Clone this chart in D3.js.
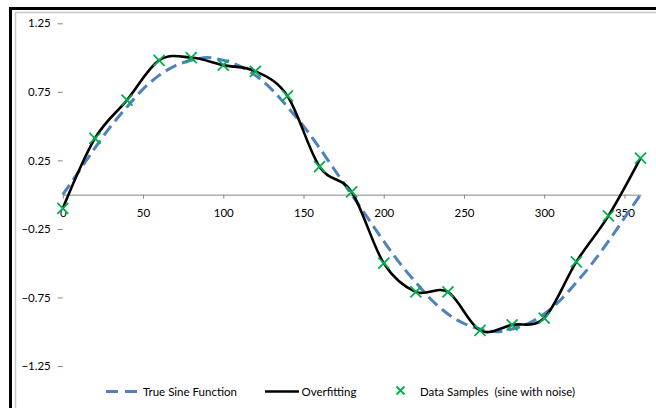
<!DOCTYPE html>
<html>
<head>
<meta charset="utf-8">
<script src="https://cdn.jsdelivr.net/npm/d3@7"></script>
<style>
  body { margin: 0; background: #fff; }
  svg { display: block; font-family: Lato, "Open Sans", sans-serif; }
</style>
</head>
<body>
<div id="chart"></div>
<script>
// sample angles (degrees) and noisy sine samples
const sampleX = [0, 20, 40, 60, 80, 100, 120, 140, 160, 180, 200, 220, 240, 260, 280, 300, 320, 340, 360];
const sampleY = [-0.10, 0.41, 0.69, 0.98, 1.00, 0.945, 0.90, 0.72, 0.204, 0.02, -0.50, -0.71, -0.71, -0.99, -0.95, -0.90, -0.49, -0.155, 0.266];

// true sine curve, read every 10 degrees
const sineX = [0, 10, 20, 30, 40, 50, 60, 70, 80, 90, 100, 110, 120, 130, 140, 150, 160, 170, 180,
  190, 200, 210, 220, 230, 240, 250, 260, 270, 280, 290, 300, 310, 320, 330, 340, 350, 360];
const sineY = [0, 0.17, 0.34, 0.5, 0.64, 0.77, 0.87, 0.94, 0.98, 1, 0.98, 0.94, 0.87, 0.77, 0.64, 0.5, 0.34, 0.17, 0,
  -0.17, -0.34, -0.5, -0.64, -0.77, -0.87, -0.94, -0.98, -1, -0.98, -0.94, -0.87, -0.77, -0.64, -0.5, -0.34, -0.17, 0];

const xTicks = [0, 50, 100, 150, 200, 250, 300, 350];
const yTicks = [1.25, 0.75, 0.25, -0.25, -0.75, -1.25];

const legendItems = ['True Sine Function', 'Overfitting', 'Data Samples  (sine with noise)'];

const width = 656, height = 408;
const blue = '#4f81bd', green = '#00b050';

const svg = d3.select('#chart').append('svg')
  .attr('width', width)
  .attr('height', height);

// frame
svg.append('rect')
  .attr('x', 10.5).attr('y', 8.5)
  .attr('width', 700).attr('height', 500)
  .attr('fill', 'none').attr('stroke', '#000').attr('stroke-width', 3);
svg.append('path')
  .attr('d', 'M15.5,420V12.5H700')
  .attr('fill', 'none').attr('stroke', '#c8c8c8').attr('stroke-width', 1.5);

const x = d3.scaleLinear().domain([0, 360]).range([62.8, 640.5]);
const y = d3.scaleLinear().domain([-1.25, 1.25]).range([366, 23.3]);

// y axis
const yAxis = svg.append('g')
  .attr('transform', `translate(${x(0)},0)`)
  .call(d3.axisLeft(y).tickValues(yTicks).tickSize(5).tickPadding(7).tickFormat(d3.format('.2f')));

// x axis at y = 0
const xAxis = svg.append('g')
  .attr('transform', `translate(0,${y(0)})`)
  .call(d3.axisBottom(x).tickValues(xTicks).tickSize(4).tickPadding(10).tickFormat(d3.format('d')));
xAxis.select('.domain').attr('d', `M${x(0)},0.5H${x(360) + 1}`);

[xAxis, yAxis].forEach(g => {
  g.selectAll('.domain, .tick line').attr('stroke', '#868686');
  g.selectAll('text').attr('fill', '#000').style('font-size', '11.5px').style('font-family', 'Lato, sans-serif');
});
yAxis.select('.domain').attr('d', `M-5,${y(1.25)}.5H0.5V${y(-1.25)}H-5`);

// true sine (dashed)
const sineLine = d3.line()
  .x((d, i) => x(sineX[i]))
  .y(d => y(d))
  .curve(d3.curveCatmullRom);
svg.append('path')
  .datum(sineY)
  .attr('d', sineLine)
  .attr('fill', 'none')
  .attr('stroke', blue)
  .attr('stroke-width', 3)
  .attr('stroke-dasharray', '12 6');

// overfitting curve
const fitLine = d3.line()
  .x((d, i) => x(sampleX[i]))
  .y(d => y(d))
  .curve(d3.curveCardinal.tension(0));
svg.append('path')
  .datum(sampleY)
  .attr('d', fitLine)
  .attr('fill', 'none')
  .attr('stroke', '#000')
  .attr('stroke-width', 2.6);

// sample markers
function cross(g, cx, cy, r) {
  g.append('path')
    .attr('d', `M${cx - r},${cy - r}L${cx + r},${cy + r}M${cx - r},${cy + r}L${cx + r},${cy - r}`)
    .attr('stroke', green)
    .attr('stroke-width', 1.8)
    .attr('fill', 'none');
}
const marks = svg.append('g');
sampleY.forEach((v, i) => cross(marks, x(sampleX[i]), y(v), 5.5));

// legend
const ly = 391.5;
const legend = svg.append('g');
legend.append('line')
  .attr('x1', 106).attr('x2', 138).attr('y1', ly).attr('y2', ly)
  .attr('stroke', blue).attr('stroke-width', 3).attr('stroke-dasharray', '12 7');
legend.append('line')
  .attr('x1', 265).attr('x2', 299).attr('y1', ly).attr('y2', ly)
  .attr('stroke', '#000').attr('stroke-width', 2.6);
cross(legend, 400.5, ly - 1, 4);

const textX = [143, 301.5, 420];
legend.selectAll('text')
  .data(legendItems)
  .join('text')
  .attr('x', (d, i) => textX[i])
  .attr('y', ly + 4)
  .style('font-size', '11.5px')
  .style('white-space', 'pre')
  .attr('fill', '#000')
  .text(d => d);
</script>
</body>
</html>
